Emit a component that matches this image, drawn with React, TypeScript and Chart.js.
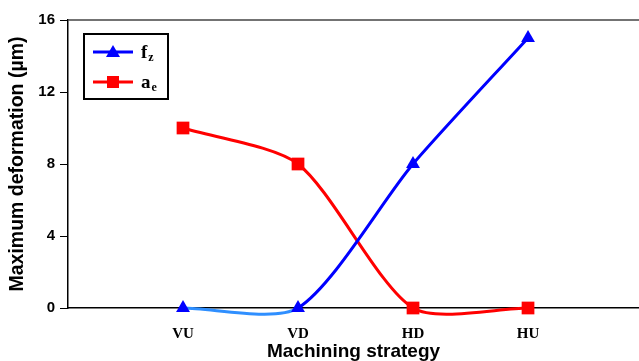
import React, { useEffect, useRef } from "react";
import { Chart, registerables } from "chart.js";

Chart.register(...registerables);

// ---- data ----
const categories = ["VU", "VD", "HD", "HU"];
const fzValues = [0, 0, 8, 15];
const aeValues = [10, 8, 0, 0];
const yTickValues = [0, 4, 8, 12, 16];
const legendMain = ["f", "a"];
const legendSub = ["z", "e"];
const xTitle = "Machining strategy";
const yTitle = "Maximum deformation (µm)";

const BLUE = "#0000ff";
const LIGHT_BLUE = "#2f8fff";
const RED = "#ff0000";

const framePlugin = {
  id: "frameTop",
  afterDraw(chart: any) {
    const { ctx, chartArea } = chart;
    ctx.save();
    ctx.strokeStyle = "#444";
    ctx.lineWidth = 1.5;
    ctx.beginPath();
    ctx.moveTo(chartArea.left, chartArea.top);
    ctx.lineTo(chart.width, chartArea.top);
    ctx.stroke();
    ctx.restore();
  },
};

const legendPlugin = {
  id: "customLegend",
  afterDraw(chart: any) {
    const { ctx } = chart;
    const x0 = 84, y0 = 34, w = 84, h = 65;
    ctx.save();
    ctx.fillStyle = "#fff";
    ctx.fillRect(x0, y0, w, h);
    ctx.strokeStyle = "#000";
    ctx.lineWidth = 2;
    ctx.strokeRect(x0, y0, w, h);
    const items = [
      { color: BLUE, style: "triangle" },
      { color: RED, style: "rect" },
    ];
    items.forEach((it, i) => {
      const cy = 52 + i * 30;
      ctx.strokeStyle = it.color;
      ctx.lineWidth = 3;
      ctx.beginPath();
      ctx.moveTo(93, cy);
      ctx.lineTo(133, cy);
      ctx.stroke();
      ctx.fillStyle = it.color;
      if (it.style === "triangle") {
        ctx.beginPath();
        ctx.moveTo(113, cy - 7);
        ctx.lineTo(120, cy + 5);
        ctx.lineTo(106, cy + 5);
        ctx.closePath();
        ctx.fill();
      } else {
        ctx.fillRect(107, cy - 6, 12, 12);
      }
      ctx.fillStyle = "#000";
      ctx.textBaseline = "alphabetic";
      ctx.textAlign = "left";
      ctx.font = "bold 19px 'Liberation Serif', serif";
      ctx.fillText(legendMain[i], 141, cy + 6);
      const mw = ctx.measureText(legendMain[i]).width;
      ctx.font = "bold 12px 'Liberation Serif', serif";
      ctx.fillText(legendSub[i], 141 + mw + 1, cy + 9);
    });
    ctx.restore();
  },
};

export default function App() {
  const ref = useRef<HTMLCanvasElement | null>(null);

  useEffect(() => {
    if (!ref.current) return;
    const chart = new Chart(ref.current, {
      type: "line",
      data: {
        datasets: [
          {
            label: "fz",
            data: categories.map((_, i) => ({ x: i + 1, y: fzValues[i] })),
            borderColor: BLUE,
            backgroundColor: BLUE,
            borderWidth: 3,
            pointStyle: "triangle",
            pointRadius: 8,
            pointBorderWidth: 0,
            tension: 0.25,
            capBezierPoints: false,
            clip: false,
            segment: {
              borderColor: (c: any) => (c.p0DataIndex === 0 ? LIGHT_BLUE : undefined),
            },
          } as any,
          {
            label: "ae",
            data: categories.map((_, i) => ({ x: i + 1, y: aeValues[i] })),
            borderColor: RED,
            backgroundColor: RED,
            borderWidth: 3,
            pointStyle: "rect",
            pointRadius: 9,
            pointBorderWidth: 0,
            tension: 0.25,
            capBezierPoints: false,
            clip: false,
          } as any,
        ],
      },
      options: {
        animation: false,
        responsive: false,
        layout: { autoPadding: false, padding: { top: 20, right: 0, left: 0, bottom: 0 } },
        plugins: {
          legend: { display: false },
          tooltip: { enabled: false },
        },
        scales: {
          x: {
            type: "linear",
            min: 0,
            max: 4.965,
            afterBuildTicks: (s: any) => {
              s.ticks = categories.map((_, i) => ({ value: i + 1 }));
            },
            afterFit: (s: any) => {
              s.height = 53;
              s.paddingLeft = 0;
              s.paddingRight = 0;
            },
            grid: { display: false, drawTicks: false },
            border: { display: true, color: "#000", width: 1.5 },
            ticks: {
              autoSkip: false,
              maxRotation: 0,
              padding: 17,
              color: "#000",
              font: { family: "'Liberation Serif', serif", size: 15, weight: "bold" },
              callback: (v: any) => categories[Math.round(Number(v)) - 1] ?? "",
            },
            title: {
              display: true,
              text: xTitle,
              color: "#000",
              font: { family: "'Liberation Sans', Arial, sans-serif", size: 19, weight: "bold" },
              padding: { top: 0, bottom: -2 },
            },
          },
          y: {
            type: "linear",
            min: 0,
            max: 16,
            afterBuildTicks: (s: any) => {
              s.ticks = yTickValues.map((v) => ({ value: v }));
            },
            afterFit: (s: any) => {
              s.width = 68;
            },
            grid: { drawOnChartArea: false, drawTicks: true, tickLength: 8, color: "#000" },
            border: { display: true, color: "#000", width: 1.5 },
            ticks: {
              padding: 5,
              color: "#000",
              font: { family: "'Liberation Sans', Arial, sans-serif", size: 15, weight: "bold" },
            },
            title: {
              display: true,
              text: yTitle,
              color: "#000",
              font: { family: "'Liberation Sans', Arial, sans-serif", size: 19.5, weight: "bold" },
              padding: { top: 6, bottom: 0 },
            },
          },
        },
      },
      plugins: [framePlugin, legendPlugin],
    } as any);
    return () => chart.destroy();
  }, []);

  return (
    <div style={{ position: "fixed", left: 0, top: 0, width: 639, height: 361, background: "#fff" }}>
      <canvas ref={ref} width={639} height={361} style={{ display: "block" }} />
    </div>
  );
}
